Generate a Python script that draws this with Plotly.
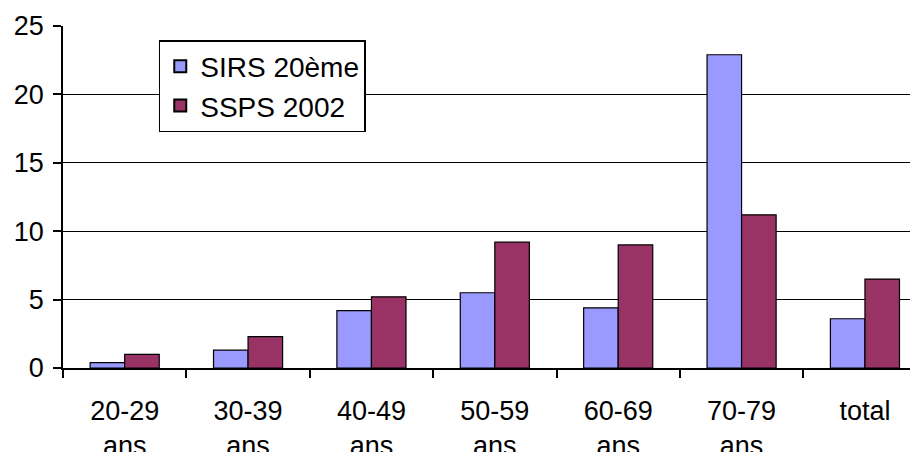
import plotly.graph_objects as go

categories = ["20-29<br>ans", "30-39<br>ans", "40-49<br>ans", "50-59<br>ans",
              "60-69<br>ans", "70-79<br>ans", "total"]
sirs_20eme = [0.4, 1.3, 4.2, 5.5, 4.4, 22.9, 3.6]
ssps_2002 = [1.0, 2.3, 5.2, 9.2, 9.0, 11.2, 6.5]
y_ticks = [0, 5, 10, 15, 20, 25]

FONT = "Liberation Sans, Arial, sans-serif"

fig = go.Figure()
fig.add_trace(go.Bar(name="SIRS 20ème", x=categories, y=sirs_20eme,
                     marker=dict(color="#9999FF", line=dict(color="black", width=1.2))))
fig.add_trace(go.Bar(name="SSPS 2002", x=categories, y=ssps_2002,
                     marker=dict(color="#993366", line=dict(color="black", width=1.2))))

# page body has an 8px margin, so the figure is 910x444 placed at (8, 8)
fig.update_layout(
    width=910, height=444,
    margin=dict(l=55, r=0, t=18, b=84),
    paper_bgcolor="white", plot_bgcolor="white",
    barmode="group", bargap=0.44, bargroupgap=0,
    font=dict(family=FONT, size=27, color="black"),
    legend=dict(x=0.112, y=0.959, xanchor="left", yanchor="top",
                bgcolor="white", bordercolor="black", borderwidth=1.5,
                font=dict(family=FONT, size=28, color="black"),
                itemsizing="constant"),
    showlegend=True,
)
fig.update_xaxes(
    type="category", range=[-0.5, 6.43], automargin=False,
    showline=True, linecolor="black", linewidth=1.5,
    ticks="outside", tickson="boundaries", ticklen=8, tickcolor="black", tickwidth=1.5,
    showgrid=False, ticklabelstandoff=18,
    tickfont=dict(family=FONT, size=27, color="black"),
)
fig.update_yaxes(
    range=[0, 25], tickvals=y_ticks, automargin=False,
    showline=True, linecolor="black", linewidth=1.5,
    ticks="outside", ticklen=8, tickcolor="black", tickwidth=1.5,
    showgrid=True, gridcolor="black", gridwidth=1,
    zeroline=False, ticklabelstandoff=4,
    tickfont=dict(family=FONT, size=27, color="black"),
)

fig.write_html("out.html")
